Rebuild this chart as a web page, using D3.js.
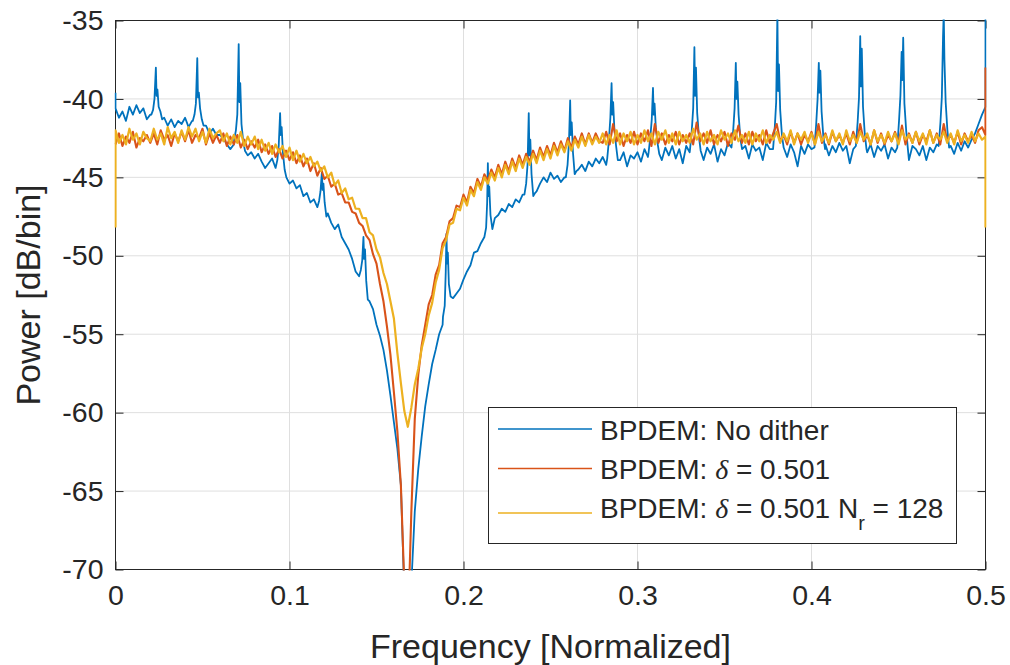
<!DOCTYPE html>
<html>
<head>
<meta charset="utf-8">
<script src="https://cdn.jsdelivr.net/npm/d3@7"></script>
<style>
    body { margin: 0; background: #fff; }
    svg text { font-family: "Liberation Sans", Arial, Helvetica, sans-serif; fill: #262626; white-space: pre; }
</style>
</head>
<body>
<div id="svg_wrapper"></div>
<script>
// spectrum sampled every 0.002 (normalized frequency), values in dB/bin
const freqStep = 0.002;

const bluePower = [
    -40.6,-41.2,-40.8,-41.4,-40.5,-41.0,-40.4,-40.9,-40.6,-41.3,
    -41.0,-41.5,-40.9,-41.6,-41.2,-41.7,-41.3,-41.8,-41.4,-41.6,
    -41.2,-41.8,-41.4,-41.9,-41.6,-42.1,-41.7,-42.2,-41.9,-42.3,
    -42.3,-42.5,-42.9,-43.2,-42.9,-43.1,-43.4,-43.2,-43.6,-43.4,
    -43.8,-43.5,-44.0,-44.4,-44.1,-43.8,-44.2,-44.6,-45.0,-45.1,
    -45.4,-45.2,-45.7,-45.5,-46.2,-46.0,-46.6,-46.4,-47.0,-46.8,
    -47.6,-47.3,-47.9,-48.3,-48.0,-48.8,-49.2,-49.6,-50.2,-51.0,
    -51.3,-51.6,-52.2,-52.9,-53.4,-54.4,-55.1,-56.0,-57.3,-58.9,
    -60.6,-62.3,-64.6,-71.5,-76.0,-71.0,-66.3,-63.6,-61.5,-59.6,
    -58.2,-56.9,-56.0,-55.0,-54.4,-53.5,-52.3,-52.7,-52.4,-52.1,
    -51.5,-51.0,-50.6,-49.8,-49.7,-49.2,-48.9,-48.6,-48.1,-47.6,
    -47.4,-47.0,-47.2,-46.7,-46.9,-46.4,-46.6,-46.1,-46.3,-45.9,
    -46.2,-45.9,-45.4,-45.0,-45.3,-44.7,-45.1,-44.9,-45.3,-45.0,
    -44.9,-44.6,-45.0,-44.5,-44.2,-44.6,-44.0,-44.3,-43.8,-44.1,
    -43.7,-44.2,-43.9,-43.5,-43.6,-43.9,-43.4,-44.3,-43.6,-43.8,
    -43.4,-44.0,-43.2,-43.7,-43.3,-42.8,-43.5,-43.9,-43.1,-43.6,
    -43.0,-43.8,-43.2,-44.1,-43.0,-43.4,-42.9,-42.6,-43.3,-43.9,
    -43.1,-43.5,-42.9,-44.0,-43.2,-43.6,-42.8,-43.3,-43.0,-42.7,
    -43.4,-43.0,-43.8,-42.9,-43.3,-43.1,-43.9,-42.8,-43.2,-42.9,
    -42.6,-43.3,-43.0,-43.7,-42.9,-43.4,-44.3,-43.0,-43.5,-42.9,
    -43.2,-43.8,-42.7,-43.3,-42.9,-43.6,-43.0,-43.4,-42.8,-43.3,
    -43.0,-44.1,-43.2,-43.5,-42.6,-43.1,-43.4,-42.9,-43.7,-43.0,
    -43.3,-42.9,-43.8,-43.1,-43.4,-42.8,-42.6,-43.2,-43.9,-43.0,
    -43.2,-43.6,-43.0,-43.9,-43.1,-43.4,-42.9,-43.3,-42.7,-43.2,
    -43.0,-43.5,-42.8,-43.3,-42.7,-43.1,-42.6,-42.2,-41.6,-41.0,
    -40.5
];

const orangePower = [
    -42.9,-42.2,-43.0,-42.4,-42.8,-42.1,-43.1,-42.5,-42.7,-42.3,
    -42.8,-42.2,-42.9,-42.0,-42.6,-42.3,-43.0,-42.2,-42.7,-42.1,
    -42.7,-42.0,-42.8,-42.3,-42.5,-41.9,-42.9,-42.2,-42.8,-42.3,
    -42.8,-42.2,-43.0,-42.4,-42.9,-42.3,-43.1,-42.6,-43.2,-42.7,
    -43.1,-42.6,-43.4,-42.9,-43.5,-43.0,-43.7,-43.2,-43.8,-43.3,
    -43.9,-43.4,-44.1,-43.6,-44.3,-43.8,-44.6,-44.1,-44.9,-44.4,
    -45.1,-44.9,-45.6,-45.4,-46.1,-46.0,-46.6,-46.6,-47.2,-47.3,
    -47.9,-48.1,-48.7,-49.0,-49.9,-50.5,-51.8,-52.9,-54.5,-56.3,
    -58.7,-61.2,-64.6,-71.0,-74.0,-66.4,-60.4,-57.6,-55.7,-54.4,
    -53.1,-52.5,-51.2,-50.6,-49.2,-48.8,-47.8,-47.6,-46.8,-46.9,
    -46.1,-46.6,-45.6,-46.0,-45.1,-45.6,-44.8,-45.2,-44.5,-45.0,
    -44.2,-44.8,-44.0,-44.6,-43.8,-44.4,-43.6,-44.2,-43.5,-44.0,
    -43.3,-43.9,-43.1,-43.7,-43.0,-43.6,-42.8,-43.4,-42.7,-43.3,
    -42.5,-43.1,-42.4,-42.9,-42.2,-42.9,-42.2,-42.8,-42.2,-42.7,
    -42.8,-42.1,-42.9,-41.6,-42.7,-42.2,-43.0,-42.3,-42.8,-42.1,
    -42.9,-42.2,-42.7,-42.0,-43.0,-41.6,-42.8,-42.2,-42.9,-42.3,
    -42.7,-42.1,-42.9,-42.3,-42.8,-42.2,-42.9,-41.5,-42.7,-42.2,
    -42.8,-42.0,-42.9,-42.3,-42.7,-42.1,-43.0,-42.2,-42.6,-41.7,
    -42.8,-42.2,-42.9,-42.1,-42.7,-42.3,-42.9,-42.0,-42.8,-42.2,
    -41.6,-42.7,-42.3,-42.9,-42.1,-42.8,-42.2,-42.9,-42.3,-42.7,
    -42.1,-42.9,-41.6,-42.8,-42.2,-42.9,-42.1,-42.7,-42.3,-42.8,
    -42.2,-42.9,-42.1,-42.8,-41.6,-42.7,-42.3,-42.9,-42.0,-42.8,
    -42.2,-42.9,-42.3,-42.7,-42.1,-42.8,-41.7,-42.9,-42.2,-42.8,
    -42.1,-42.9,-42.3,-42.7,-42.0,-42.8,-42.2,-42.9,-41.6,-42.7,
    -42.3,-42.8,-42.1,-42.9,-42.2,-42.7,-42.3,-42.8,-42.0,-41.8,
    -42.3
];

const yellowPower = [
    -42.0,-42.8,-42.3,-42.9,-41.9,-42.6,-42.2,-42.9,-42.1,-42.5,
    -42.7,-41.9,-42.6,-42.2,-42.9,-41.8,-42.5,-42.1,-42.8,-42.0,
    -42.6,-41.8,-42.4,-41.9,-42.7,-42.1,-42.8,-41.9,-42.5,-42.2,
    -42.0,-42.7,-42.2,-42.9,-42.3,-42.8,-42.1,-43.0,-42.4,-42.9,
    -42.4,-43.2,-42.6,-43.3,-42.8,-43.5,-42.9,-43.4,-43.0,-43.7,
    -43.1,-43.9,-43.3,-44.0,-43.5,-44.1,-43.7,-44.3,-44.0,-44.6,
    -44.3,-45.0,-44.7,-45.5,-45.2,-46.0,-45.7,-46.4,-46.3,-47.0,
    -47.0,-47.6,-47.6,-48.5,-48.7,-49.6,-50.1,-51.1,-51.8,-52.9,
    -54.0,-56.2,-58.1,-59.9,-60.9,-59.7,-58.2,-57.2,-55.9,-55.0,
    -53.8,-53.0,-51.7,-50.9,-49.5,-49.0,-48.0,-47.9,-47.0,-47.1,
    -46.3,-46.8,-45.8,-46.2,-45.3,-45.8,-45.0,-45.4,-44.7,-45.2,
    -44.4,-45.0,-44.2,-44.8,-44.0,-44.6,-43.8,-44.4,-43.7,-44.2,
    -43.5,-44.1,-43.3,-43.9,-43.2,-43.8,-43.0,-43.6,-42.9,-43.4,
    -42.7,-43.3,-42.6,-43.1,-42.4,-43.0,-42.3,-42.9,-42.4,-42.8,
    -42.2,-42.9,-42.3,-42.8,-42.0,-42.9,-42.2,-42.7,-42.1,-42.9,
    -42.3,-42.8,-42.0,-42.7,-42.2,-42.9,-42.1,-42.6,-42.0,-42.8,
    -42.2,-42.9,-42.1,-42.7,-42.3,-42.8,-41.9,-42.6,-42.2,-42.9,
    -42.1,-42.7,-42.3,-42.9,-42.0,-42.6,-42.2,-42.8,-42.0,-42.7,
    -42.3,-42.8,-42.1,-42.9,-42.2,-42.7,-42.0,-42.8,-42.3,-42.6,
    -42.1,-42.8,-42.2,-42.7,-42.0,-42.9,-42.2,-42.6,-42.1,-42.8,
    -42.2,-42.9,-42.1,-42.7,-42.3,-42.8,-42.0,-42.7,-42.2,-42.9,
    -42.0,-42.7,-42.3,-42.8,-42.1,-42.6,-42.2,-42.9,-42.0,-42.7,
    -42.3,-42.8,-42.1,-42.7,-42.2,-42.9,-42.0,-42.6,-42.3,-42.8,
    -42.1,-42.7,-42.2,-42.9,-42.0,-42.8,-42.3,-42.6,-42.1,-42.8,
    -42.2,-42.9,-42.0,-42.7,-42.3,-42.8,-42.1,-42.7,-42.2,-42.6,
    -42.4
];

// tones of the undithered modulator, every 1/42, as [freq, dB] points
const blueSpikes = [
    [[0.0206,-41.0],[0.0216,-40.7],[0.0224,-40.0],[0.0232,-38.0],[0.0236,-39.8],[0.0241,-39.4],[0.0248,-40.5],[0.0258,-40.8],[0.0268,-41.3]],
    [[0.0444,-41.4],[0.0454,-41.0],[0.0462,-40.3],[0.0470,-37.4],[0.0474,-39.9],[0.0479,-39.6],[0.0486,-40.6],[0.0496,-41.3],[0.0506,-41.7]],
    [[0.0682,-42.6],[0.0692,-42.0],[0.0700,-41.0],[0.0708,-36.5],[0.0712,-40.2],[0.0717,-39.0],[0.0724,-41.6],[0.0734,-42.7],[0.0744,-43.3]],
    [[0.0920,-44.4],[0.0930,-43.9],[0.0938,-43.0],[0.0946,-40.9],[0.0950,-42.3],[0.0955,-41.8],[0.0962,-43.4],[0.0972,-44.5],[0.0982,-45.0]],
    [[0.1160,-46.9],[0.1170,-46.5],[0.1178,-45.9],[0.1186,-44.7],[0.1190,-45.8],[0.1195,-45.4],[0.1202,-46.6],[0.1212,-47.5]],
    [[0.1400,-51.3],[0.1410,-50.9],[0.1418,-50.3],[0.1425,-48.8],[0.1429,-50.2],[0.1434,-49.6],[0.1441,-51.6],[0.1450,-52.8]],
    [[0.1882,-53.9],[0.1892,-53.2],[0.1898,-51.0],[0.1902,-48.6],[0.1906,-50.5],[0.1910,-49.8],[0.1916,-51.8],[0.1926,-52.6]],
    [[0.2120,-48.8],[0.2130,-48.2],[0.2136,-46.6],[0.2140,-44.1],[0.2144,-46.2],[0.2148,-45.6],[0.2155,-47.4],[0.2166,-48.3]],
    [[0.2350,-46.1],[0.2360,-45.4],[0.2368,-44.2],[0.2375,-40.9],[0.2379,-43.6],[0.2384,-42.6],[0.2391,-44.8],[0.2401,-46.2],[0.2411,-46.0]],
    [[0.2588,-45.0],[0.2598,-44.2],[0.2606,-42.8],[0.2613,-40.1],[0.2617,-42.3],[0.2622,-41.5],[0.2629,-43.4],[0.2639,-44.8],[0.2649,-44.6]],
    [[0.2826,-43.8],[0.2836,-42.6],[0.2844,-41.2],[0.2851,-39.0],[0.2855,-41.0],[0.2860,-40.2],[0.2867,-41.9],[0.2877,-43.0],[0.2887,-43.9]],
    [[0.3064,-43.4],[0.3074,-42.4],[0.3082,-41.3],[0.3089,-39.3],[0.3093,-41.0],[0.3098,-40.3],[0.3105,-41.8],[0.3115,-42.8],[0.3125,-43.5]],
    [[0.3302,-43.2],[0.3312,-42.0],[0.3320,-40.6],[0.3327,-36.7],[0.3331,-39.8],[0.3336,-38.0],[0.3343,-40.9],[0.3353,-42.4],[0.3363,-43.3]],
    [[0.3540,-43.1],[0.3550,-42.0],[0.3558,-40.6],[0.3565,-37.7],[0.3569,-40.0],[0.3574,-38.9],[0.3581,-41.0],[0.3591,-42.5],[0.3601,-43.2]],
    [[0.3779,-43.2],[0.3789,-41.8],[0.3797,-40.2],[0.3804,-34.5],[0.3808,-39.5],[0.3813,-37.8],[0.3820,-40.7],[0.3830,-42.3],[0.3840,-43.1]],
    [[0.4017,-43.1],[0.4027,-41.6],[0.4035,-40.0],[0.4042,-37.7],[0.4046,-39.6],[0.4051,-38.2],[0.4058,-40.8],[0.4068,-42.4],[0.4078,-43.2]],
    [[0.4255,-43.0],[0.4265,-41.5],[0.4273,-39.9],[0.4280,-36.0],[0.4284,-39.2],[0.4289,-36.8],[0.4296,-40.5],[0.4306,-42.2],[0.4316,-43.2]],
    [[0.4493,-43.1],[0.4503,-41.4],[0.4511,-39.8],[0.4518,-37.0],[0.4522,-38.8],[0.4527,-36.1],[0.4534,-40.3],[0.4544,-42.0],[0.4554,-43.2]],
    [[0.4731,-43.0],[0.4741,-41.5],[0.4749,-39.9],[0.4756,-36.0],[0.4760,-34.5],[0.4764,-37.5],[0.4771,-40.2],[0.4781,-42.0],[0.4791,-43.1]]
];

// DC / Nyquist bins (blue, orange, yellow)
const leftEdgePower = [-39.6, -42.9, -48.2];
const rightEdgePower = [-34.5, -38.0, -48.2];

const seriesColors = ['#0072BD', '#D95319', '#EDB120'];
const seriesWidths = [1.8, 2.1, 2.2];
const xTicks = [0, 0.1, 0.2, 0.3, 0.4, 0.5];
const yTicks = [-70, -65, -60, -55, -50, -45, -40, -35];

const legendRows = [
    [{ t: 'BPDEM: No dither' }],
    [{ t: 'BPDEM: ' }, { t: 'δ', greek: true }, { t: ' = 0.501' }],
    [{ t: 'BPDEM: ' }, { t: 'δ', greek: true }, { t: ' = 0.501 N' }, { t: 'r', sub: true }, { t: ' = 128' }]
];

renderPsd();

function buildSeries( power, spikes, idx ) {
    let pts = power.map((p, i) => [i * freqStep, p]);

    if (spikes.length) {
        pts = pts.filter(d => !spikes.some(s => d[0] >= s[0][0] && d[0] <= s[s.length - 1][0]));
        pts = pts.concat(spikes.flat());
    }

    pts.sort((a, b) => a[0] - b[0]);

    return [[0, leftEdgePower[idx]]].concat(pts, [[0.5, rightEdgePower[idx]]]);
}

function renderPsd() {
    const width = 1010, height = 665;
    const left = 115.5, right = 985.5, top = 20.5, bottom = 569.5;

    const svg = d3.select('#svg_wrapper')
    .append('svg')
    .attr('width', width)
    .attr('height', height)
    .attr('viewBox', `0 0 ${width} ${height}`);

    const x = d3.scaleLinear().domain([0, 0.5]).range([left, right]);
    const y = d3.scaleLinear().domain([-70, -35]).range([bottom, top]);

    // grid
    svg.append('g')
    .selectAll('line')
    .data(xTicks)
    .enter()
    .append('line')
    .attr('x1', d => x(d))
    .attr('x2', d => x(d))
    .attr('y1', top)
    .attr('y2', bottom)
    .attr('stroke', '#dfdfdf')
    .attr('stroke-width', 1);

    svg.append('g')
    .selectAll('line')
    .data(yTicks)
    .enter()
    .append('line')
    .attr('y1', d => y(d))
    .attr('y2', d => y(d))
    .attr('x1', left)
    .attr('x2', right)
    .attr('stroke', '#dfdfdf')
    .attr('stroke-width', 1);

    // axes, ticks pointing inward on all four sides
    const tickFont = 28.5;

    const gx = svg.append('g')
    .attr('transform', `translate(0,${bottom})`)
    .call(d3.axisBottom(x).tickValues(xTicks).tickSize(-8).tickPadding(15).tickFormat(d => String(d)));

    const gy = svg.append('g')
    .attr('transform', `translate(${left},0)`)
    .call(d3.axisLeft(y).tickValues(yTicks).tickSize(-8).tickPadding(12).tickFormat(d => String(d)));

    svg.append('g')
    .attr('transform', `translate(0,${top})`)
    .call(d3.axisTop(x).tickValues(xTicks).tickSize(-8).tickFormat(''));

    svg.append('g')
    .attr('transform', `translate(${right},0)`)
    .call(d3.axisRight(y).tickValues(yTicks).tickSize(-8).tickFormat(''));

    svg.selectAll('.domain').remove();
    svg.selectAll('.tick line').attr('stroke', '#262626').attr('stroke-width', 1);

    [gx, gy].forEach(g => {
        g.attr('font-family', null).attr('font-size', null);
        g.selectAll('text')
        .style('font-size', tickFont + 'px')
        .attr('fill', '#262626');
    });

    svg.append('rect')
    .attr('x', left)
    .attr('y', top)
    .attr('width', right - left)
    .attr('height', bottom - top)
    .attr('fill', 'none')
    .attr('stroke', '#262626')
    .attr('stroke-width', 1);

    // data on top of the box, like the original
    svg.append('clipPath')
    .attr('id', 'plot_clip')
    .append('rect')
    .attr('x', left - 1)
    .attr('y', top - 1)
    .attr('width', right - left + 2)
    .attr('height', bottom - top + 2);

    const line = d3.line()
    .x(d => x(d[0]))
    .y(d => y(d[1]));

    const series = [
        buildSeries(bluePower, blueSpikes, 0),
        buildSeries(orangePower, [], 1),
        buildSeries(yellowPower, [], 2)
    ];

    svg.append('g')
    .attr('clip-path', 'url(#plot_clip)')
    .selectAll('path')
    .data(series)
    .enter()
    .append('path')
    .attr('d', line)
    .attr('fill', 'none')
    .attr('stroke', (d, i) => seriesColors[i])
    .attr('stroke-width', (d, i) => seriesWidths[i])
    .attr('stroke-linejoin', 'round');

    // labels
    svg.append('text')
    .attr('x', (left + right) / 2)
    .attr('y', 658)
    .attr('text-anchor', 'middle')
    .style('font-size', '34px')
    .text('Frequency [Normalized]');

    svg.append('text')
    .attr('transform', `translate(40,${(top + bottom) / 2}) rotate(-90)`)
    .attr('text-anchor', 'middle')
    .style('font-size', '34px')
    .text('Power [dB/bin]');

    // legend
    const lineY = [429, 468.5, 513];
    const textY = [440, 478.5, 518];

    svg.append('rect')
    .attr('x', 488.5)
    .attr('y', 407.5)
    .attr('width', 468)
    .attr('height', 136)
    .attr('fill', '#fff')
    .attr('stroke', '#262626')
    .attr('stroke-width', 1);

    for (let i = 0; i < legendRows.length; i++) {
        svg.append('line')
        .attr('x1', 498)
        .attr('x2', 592)
        .attr('y1', lineY[i])
        .attr('y2', lineY[i])
        .attr('stroke', seriesColors[i])
        .attr('stroke-width', 1.3);

        const txt = svg.append('text')
        .attr('x', 600)
        .attr('y', textY[i])
        .style('font-size', '28px');

        let shifted = false;
        legendRows[i].forEach(part => {
            const ts = txt.append('tspan').text(part.t);
            if (part.greek) {
                ts.style('font-family', '"Liberation Serif", "DejaVu Serif", serif')
                .style('font-style', 'italic');
            }
            if (part.sub) {
                ts.attr('dy', 12).style('font-size', '20px');
                shifted = true;
            } else if (shifted) {
                ts.attr('dy', -12);
                shifted = false;
            }
        });
    }
}
</script>
</body>
</html>
